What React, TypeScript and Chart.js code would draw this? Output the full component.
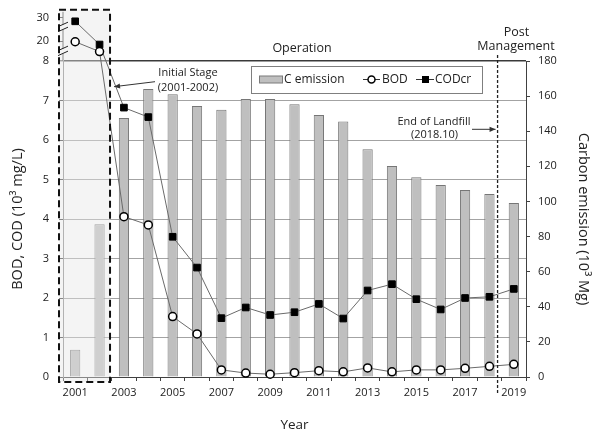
import React, { useEffect, useRef } from 'react';
import { Chart, registerables, LinearScale } from 'chart.js';

// ---------- data ----------
const YEARS = ['2001', '2002', '2003', '2004', '2005', '2006', '2007', '2008', '2009', '2010',
  '2011', '2012', '2013', '2014', '2015', '2016', '2017', '2018', '2019'];
const C_EMISSION = [15.5, 87, 147.5, 164, 161, 154.3, 152.2, 158.3, 158.3, 155.4,
  149.3, 145.5, 129.8, 120.2, 113.8, 109.4, 106.5, 104.2, 99.1];
const BOD = [19.7, 13.7, 4.06, 3.85, 1.53, 1.09, 0.18, 0.10, 0.07, 0.11,
  0.16, 0.13, 0.23, 0.13, 0.18, 0.18, 0.22, 0.27, 0.32];
const CODCR = [28.5, 18.0, 6.82, 6.58, 3.55, 2.77, 1.49, 1.76, 1.57, 1.64,
  1.85, 1.48, 2.19, 2.35, 1.97, 1.71, 2.0, 2.03, 2.23];
const LEFT_TICKS = [0, 1, 2, 3, 4, 5, 6, 7, 8];
const LEFT_BREAK_TICKS = [20, 30];
const BREAK_MARK_VALUES = [14, 26];
const RIGHT_MIN = 0;
const RIGHT_MAX = 180;
const RIGHT_STEP = 20;
const FIRST_YEAR = 2001;
const END_OF_LANDFILL = 2018 + 10 / 12;
const INITIAL_STAGE = ['2001', '2002'];

const FONT = "'Open Sans', 'DejaVu Sans', sans-serif";
const TEXT = '#222';

// ---------- broken left axis ----------
const MAIN_MAX = 8;
const GAP_LOW = 8, GAP_HIGH = 20, TOP_HIGH = 30;
const GAP_UNITS = 0.5;      // pixel height of 8..20 in main units
const UPPER_UNITS = 0.594;  // pixel height of 20..30 in main units

class BrokenLinearScale extends LinearScale {
  static id = 'brokenLinear';
  static defaults = LinearScale.defaults;
  buildTicks() {
    return [...LEFT_TICKS, ...LEFT_BREAK_TICKS].map((v) => ({ value: v }));
  }
  getPixelForValue(value: number) {
    if (value === null || value === undefined || isNaN(value)) return NaN;
    const unit = (this.bottom - this.top) / MAIN_MAX;
    if (value <= MAIN_MAX) return this.bottom - value * unit;
    if (value <= GAP_HIGH) return this.top - ((value - GAP_LOW) / (GAP_HIGH - GAP_LOW)) * GAP_UNITS * unit;
    return this.top - GAP_UNITS * unit - ((value - GAP_HIGH) / (TOP_HIGH - GAP_HIGH)) * UPPER_UNITS * unit;
  }
  getValueForPixel(pixel: number) {
    const unit = (this.bottom - this.top) / MAIN_MAX;
    if (pixel >= this.top) return (this.bottom - pixel) / unit;
    const d = (this.top - pixel) / unit;
    if (d <= GAP_UNITS) return GAP_LOW + (d / GAP_UNITS) * (GAP_HIGH - GAP_LOW);
    return GAP_HIGH + ((d - GAP_UNITS) / UPPER_UNITS) * (TOP_HIGH - GAP_HIGH);
  }
}

Chart.register(...registerables, BrokenLinearScale);

function arrow(ctx: CanvasRenderingContext2D, x1: number, y1: number, x2: number, y2: number) {
  ctx.beginPath();
  ctx.moveTo(x1, y1);
  ctx.lineTo(x2, y2);
  ctx.stroke();
  const a = Math.atan2(y2 - y1, x2 - x1);
  const L = 6, W = 2.6;
  ctx.beginPath();
  ctx.moveTo(x2, y2);
  ctx.lineTo(x2 - L * Math.cos(a) + W * Math.sin(a), y2 - L * Math.sin(a) - W * Math.cos(a));
  ctx.lineTo(x2 - L * Math.cos(a) - W * Math.sin(a), y2 - L * Math.sin(a) + W * Math.cos(a));
  ctx.closePath();
  ctx.fill();
}

function initialBox(chart: any, ca: any) {
  const x = chart.scales.x;
  const y = chart.scales.y;
  const cw = x.getPixelForValue(1) - x.getPixelForValue(0);
  const i1 = YEARS.indexOf(INITIAL_STAGE[1]);
  return {
    left: ca.left - 4,
    right: x.getPixelForValue(i1) + 0.43 * cw,
    top: y.getPixelForValue(TOP_HIGH) - 8,
    bottom: ca.bottom + 5,
  };
}

let savedTop: number | null = null;

const annotationPlugin = {
  id: 'annotations',
  beforeDatasetsDraw(chart: any) {
    // let the points above the axis break (values > 8) be drawn
    savedTop = chart.chartArea.top;
    chart.chartArea.top = 0;
  },
  afterDatasetDraw(chart: any, args: any) {
    if (args.index !== 0) return;
    const ctx = chart.ctx;
    const ca = { ...chart.chartArea, top: savedTop ?? chart.chartArea.top };
    const b = initialBox(chart, ca);
    ctx.save();
    ctx.fillStyle = 'rgba(229,229,229,0.43)';
    ctx.fillRect(b.left, b.top, b.right - b.left, b.bottom - b.top);
    ctx.restore();
  },
  afterDatasetsDraw(chart: any) {
    if (savedTop !== null) chart.chartArea.top = savedTop;
    savedTop = null;
  },
  afterDraw(chart: any) {
    const ctx: CanvasRenderingContext2D = chart.ctx;
    const ca = chart.chartArea;
    const x = chart.scales.x;
    const y = chart.scales.y;
    const b = initialBox(chart, ca);
    ctx.save();

    // upper (broken) part of the left axis
    ctx.strokeStyle = '#8c8c8c';
    ctx.lineWidth = 1;
    ctx.beginPath();
    ctx.moveTo(ca.left, b.top + 2);
    ctx.lineTo(ca.left, ca.top);
    ctx.stroke();
    BREAK_MARK_VALUES.forEach((v) => {
      const py = y.getPixelForValue(v);
      ctx.fillStyle = '#f4f4f4';
      ctx.fillRect(ca.left - 2, py - 2.5, 4, 5);
      ctx.strokeStyle = '#222';
      ctx.lineWidth = 1;
      ctx.beginPath();
      ctx.moveTo(ca.left - 5, py - 0.5);
      ctx.lineTo(ca.left + 5, py - 5);
      ctx.moveTo(ca.left - 5, py + 4.5);
      ctx.lineTo(ca.left + 5, py);
      ctx.stroke();
    });

    // dashed box for the initial stage
    ctx.strokeStyle = '#111';
    ctx.lineWidth = 2;
    ctx.setLineDash([7, 4]);
    ctx.strokeRect(b.left, b.top, b.right - b.left, b.bottom - b.top);
    ctx.setLineDash([]);

    // end of landfill dashed line
    const lx = x.getPixelForValue(END_OF_LANDFILL - FIRST_YEAR - 0.5);
    ctx.strokeStyle = '#222';
    ctx.lineWidth = 1.3;
    ctx.setLineDash([3, 2]);
    ctx.beginPath();
    ctx.moveTo(lx, ca.top - 6);
    ctx.lineTo(lx, ca.bottom + 16);
    ctx.stroke();
    ctx.setLineDash([]);

    // texts
    ctx.fillStyle = TEXT;
    ctx.textAlign = 'center';
    ctx.textBaseline = 'middle';
    ctx.font = `12.5px ${FONT}`;
    ctx.fillText('Operation', 302, ca.top - 13);
    ctx.fillText('Post', 516.5, ca.top - 28.5);
    ctx.fillText('Management', 516, ca.top - 15);

    ctx.font = `11px ${FONT}`;
    ctx.fillText('Initial Stage', 188, ca.top + 12.3);
    ctx.fillText('(2001-2002)', 188, ca.top + 27.3);
    ctx.fillText('End of Landfill', 434, ca.top + 60.7);
    ctx.fillText('(2018.10)', 434.5, ca.top + 74);

    ctx.strokeStyle = '#333';
    ctx.fillStyle = '#333';
    ctx.lineWidth = 1;
    arrow(ctx, 155, ca.top + 20.7, b.right + 4, ca.top + 25.7);
    arrow(ctx, 472, ca.top + 68.3, lx - 2, ca.top + 68.3);

    // legend
    const lgX = 251, lgY = ca.top + 5, lgW = 231, lgH = 27;
    const cy = lgY + lgH / 2;
    ctx.fillStyle = '#fff';
    ctx.fillRect(lgX, lgY, lgW, lgH);
    ctx.strokeStyle = '#7f7f7f';
    ctx.lineWidth = 1;
    ctx.strokeRect(lgX + 0.5, lgY + 0.5, lgW, lgH);

    ctx.fillStyle = '#bfbfbf';
    ctx.fillRect(259, cy - 3.5, 24, 7);
    ctx.strokeStyle = '#7a7a7a';
    ctx.strokeRect(259.5, cy - 3.5, 23, 7);

    ctx.font = `12px ${FONT}`;
    ctx.textAlign = 'left';
    ctx.fillStyle = TEXT;
    ctx.fillText('C emission', 284, cy);

    ctx.strokeStyle = '#333';
    ctx.beginPath();
    ctx.moveTo(363, cy);
    ctx.lineTo(380, cy);
    ctx.moveTo(416, cy);
    ctx.lineTo(434, cy);
    ctx.stroke();
    ctx.beginPath();
    ctx.arc(371.5, cy, 3.5, 0, Math.PI * 2);
    ctx.fillStyle = '#fff';
    ctx.fill();
    ctx.strokeStyle = '#000';
    ctx.lineWidth = 1.5;
    ctx.stroke();
    ctx.fillStyle = '#000';
    ctx.fillRect(422, cy - 3.5, 7, 7);

    ctx.fillStyle = TEXT;
    ctx.fillText('BOD', 382, cy);
    ctx.fillText('CODcr', 435, cy);

    ctx.restore();
  },
};

export default function App() {
  const ref = useRef<HTMLCanvasElement>(null);

  useEffect(() => {
    Chart.defaults.font.family = FONT;
    const chart = new Chart(ref.current as HTMLCanvasElement, {
      type: 'bar',
      data: {
        labels: YEARS,
        datasets: [
          {
            type: 'bar',
            label: 'C emission',
            data: C_EMISSION,
            yAxisID: 'y2',
            backgroundColor: '#bfbfbf',
            borderColor: '#767676',
            borderWidth: 1,
            barPercentage: 0.42,
            categoryPercentage: 1,
            order: 3,
          } as any,
          {
            type: 'line',
            label: 'BOD',
            data: BOD,
            yAxisID: 'y',
            borderColor: '#6a6a6a',
            borderWidth: 1,
            pointStyle: 'circle',
            pointRadius: 4,
            pointBorderWidth: 1.5,
            pointBackgroundColor: '#fff',
            pointBorderColor: '#000',
            clip: false,
            order: 1,
          } as any,
          {
            type: 'line',
            label: 'CODcr',
            data: CODCR,
            yAxisID: 'y',
            borderColor: '#6a6a6a',
            borderWidth: 1,
            pointStyle: 'rect',
            pointRadius: 4.7,
            pointBorderWidth: 1,
            pointBackgroundColor: '#000',
            pointBorderColor: '#000',
            clip: false,
            order: 2,
          } as any,
        ],
      },
      options: {
        animation: false,
        responsive: false,
        devicePixelRatio: 1,
        layout: { padding: { top: 61, left: 0, right: 0, bottom: 0 } },
        plugins: { legend: { display: false }, tooltip: { enabled: false }, title: { display: false } },
        scales: {
          x: {
            type: 'category',
            afterFit: (s: any) => { s.height = 58; },
            grid: { drawOnChartArea: false, drawTicks: true, tickLength: 4, color: '#404040', offset: true },
            border: { display: true, color: '#404040', width: 1 },
            ticks: {
              autoSkip: false,
              maxRotation: 0,
              padding: 5,
              color: TEXT,
              font: { size: 11 },
              callback: (_v: any, i: number) => (i % 2 === 0 ? YEARS[i] : ''),
            },
            title: { display: true, text: 'Year', color: TEXT, font: { size: 13.5 }, padding: { top: 0, bottom: 2 } },
          },
          y: {
            type: 'brokenLinear',
            position: 'left',
            min: 0,
            max: MAIN_MAX,
            afterFit: (s: any) => { s.width = 63; },
            grid: {
              color: (c: any) => {
                const v = c.tick ? c.tick.value : 0;
                if (v > MAIN_MAX) return 'rgba(0,0,0,0)';
                return v === MAIN_MAX ? '#3a3a3a' : '#a3a3a3';
              },
              lineWidth: (c: any) => (c.tick && c.tick.value === MAIN_MAX ? 1.6 : 1),
              tickColor: '#404040',
              tickWidth: 1,
              tickLength: 4,
            },
            border: { display: true, color: '#8c8c8c', width: 1 },
            ticks: { autoSkip: false, padding: 10, color: TEXT, font: { size: 11 }, callback: (v: any) => String(v) },
            title: { display: true, text: 'BOD, COD (10³ mg/L)', color: TEXT, font: { size: 14.5 }, padding: { top: 9.6, bottom: 0 } },
          } as any,
          y2: {
            type: 'linear',
            position: 'right',
            min: RIGHT_MIN,
            max: RIGHT_MAX,
            afterFit: (s: any) => { s.width = 73; },
            grid: { drawOnChartArea: false, tickLength: 4, color: '#404040' },
            border: { display: true, color: '#404040', width: 1 },
            ticks: { stepSize: RIGHT_STEP, padding: 8, color: TEXT, font: { size: 11 } },
            title: { display: true, text: 'Carbon emission (10³ Mg)', color: TEXT, font: { size: 14.5 }, padding: { top: 7, bottom: 0 } },
          },
        },
      } as any,
      plugins: [annotationPlugin],
    });
    return () => chart.destroy();
  }, []);

  return (
    <div style={{ position: 'absolute', left: 0, top: 0, width: 599, height: 435, background: '#fff' }}>
      <canvas ref={ref} width={599} height={435} style={{ display: 'block' }} />
    </div>
  );
}
